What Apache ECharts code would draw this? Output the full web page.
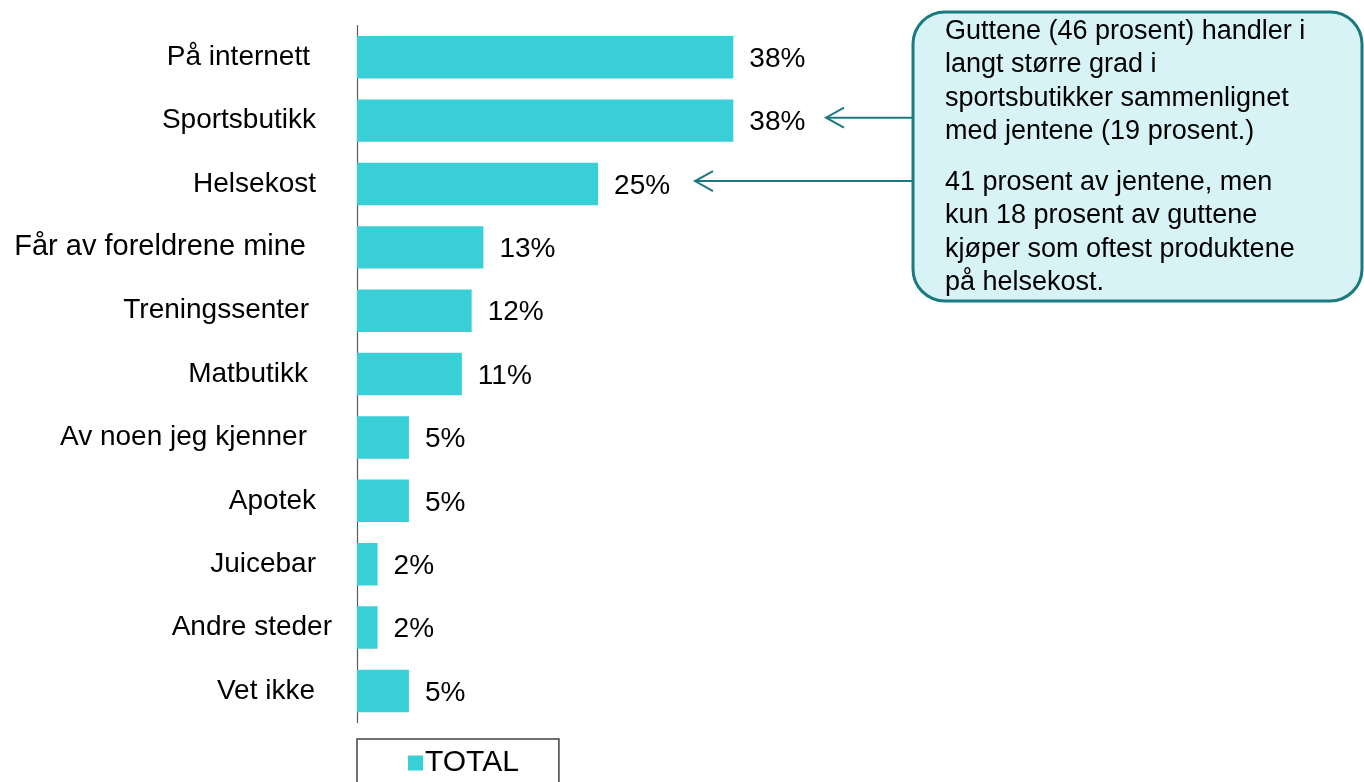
<!DOCTYPE html>
<html>
<head>
<meta charset="utf-8">
<script src="https://cdn.jsdelivr.net/npm/echarts@6/dist/echarts.min.js"></script>
<style>
html,body{margin:0;padding:0;background:#fff;}
#chart{width:1364px;height:782px;}
</style>
</head>
<body>
<div id="chart"></div>
<script>
const categories = ['På internett','Sportsbutikk','Helsekost','Får av foreldrene mine','Treningssenter','Matbutikk','Av noen jeg kjenner','Apotek','Juicebar','Andre steder','Vet ikke'];
const totalValues = [38.4, 38.4, 24.6, 12.9, 11.7, 10.7, 5.3, 5.3, 2.1, 2.1, 5.3];
const seriesName = 'TOTAL';
const calloutPara1 = ['Guttene (46 prosent) handler i','langt større grad i','sportsbutikker sammenlignet','med jentene (19 prosent.)'];
const calloutPara2 = ['41 prosent av jentene, men','kun 18 prosent av guttene','kjøper som oftest produktene','på helsekost.'];

const FONT = "'Liberation Sans', Arial, sans-serif";
const labelPad = {'På internett':22,'Sportsbutikk':16,'Helsekost':16,'Får av foreldrene mine':26,'Treningssenter':23,'Matbutikk':24,'Av noen jeg kjenner':25,'Apotek':16,'Juicebar':16,'Andre steder':0,'Vet ikke':17};
const labelSize = {'Får av foreldrene mine':29};

const chart = echarts.init(document.getElementById('chart'));
const option = {
  animation: false,
  textStyle: {fontFamily: FONT},
  grid: {left: 357, top: 25.6, height: 697, width: 490},
  legend: {
    data: [seriesName], left: 357, top: 739,
    padding: [9, 40, 14, 51],
    borderColor: '#404040', borderWidth: 1.5,
    itemWidth: 15, itemHeight: 15, itemGap: 5,
    icon: 'rect',
    textStyle: {fontSize: 30, color: '#000', fontFamily: FONT, padding: [0,0,0,-3]}
  },
  xAxis: {type: 'value', min: 0, max: 50, show: false},
  yAxis: {
    type: 'category', inverse: true,
    data: categories.map(c => ({value: c, textStyle: {padding: [4, labelPad[c] || 0, 0, 0], fontSize: labelSize[c] || 28}})),
    axisLine: {show: true, lineStyle: {color: '#595959', width: 1.2}},
    axisTick: {show: false},
    axisLabel: {fontSize: 28, color: '#000', margin: 25, fontFamily: FONT}
  },
  series: [{
    name: seriesName, type: 'bar', data: totalValues,
    barCategoryGap: '33%',
    itemStyle: {color: '#39CFD6'},
    label: {show: true, position: 'right', distance: 16, offset: [0, 2], fontSize: 28, color: '#000', fontFamily: FONT,
      formatter: p => Math.round(p.value) + '%'}
  }]
};
chart.setOption(option);

const ySport = chart.convertToPixel({yAxisIndex: 0}, 'Sportsbutikk') - 3;
const yHelse = chart.convertToPixel({yAxisIndex: 0}, 'Helsekost') - 3;
const teal = '#1B7A80';
function arrow(tipX, y) {
  return [
    {type: 'line', shape: {x1: tipX, y1: y, x2: 913, y2: y}, style: {stroke: teal, lineWidth: 2}, z: 5},
    {type: 'polyline', shape: {points: [[tipX + 18, y - 10], [tipX, y], [tipX + 18, y + 10]]}, style: {stroke: teal, lineWidth: 2, fill: null}, z: 5}
  ];
}
chart.setOption({
  graphic: [
    ...arrow(826, ySport),
    ...arrow(695, yHelse),
    {type: 'rect', shape: {x: 913, y: 12, width: 449, height: 289, r: 32},
      style: {fill: '#D7F3F5', stroke: teal, lineWidth: 3}, z: 6},
    {type: 'text', x: 945, y: 15, z: 7,
      style: {text: calloutPara1.join('\n'), font: '27px ' + FONT, fill: '#000', lineHeight: 33.3}},
    {type: 'text', x: 945, y: 166, z: 7,
      style: {text: calloutPara2.join('\n'), font: '27px ' + FONT, fill: '#000', lineHeight: 33.3}}
  ]
});
</script>
</body>
</html>
